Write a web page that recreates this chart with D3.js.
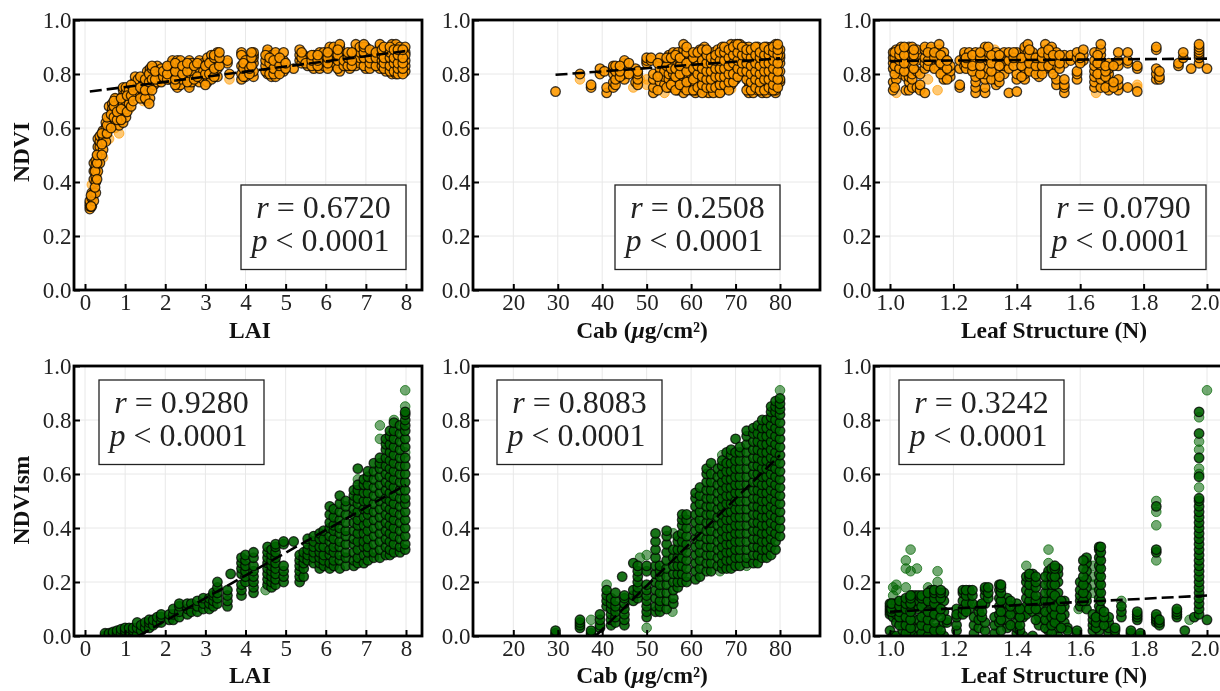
<!DOCTYPE html>
<html lang="en">
<head>
  <meta charset="UTF-8">
  <title>NDVI and NDVIsm against LAI, Cab and N</title>
  <script src="https://d3js.org/d3.v7.min.js"></script>
  <style>
    html, body { margin: 0; padding: 0; background: white; overflow: hidden; }
    svg { display: block; filter: blur(0.5px); font-family: "Liberation Serif", "Times New Roman", serif; }
  </style>
</head>
<body>
  <div id="chart"></div>

  <script>
    // every row is one column of dots: [x, y, y, y, ...]
    // the *Faint rows are the lone pale dots, the others are stacked so they read dark
    const laiTicks = [0, 1, 2, 3, 4, 5, 6, 7, 8];
    const cabTicks = [20, 30, 40, 50, 60, 70, 80];
    const leafTicks = [1.0, 1.2, 1.4, 1.6, 1.8, 2.0];
    const yTicks = [0, 0.2, 0.4, 0.6, 0.8, 1.0];

    const ndviLai = [
      [0.12, .30, .31, .32, .33], [0.17, .31, .34, .36], [0.22, .33, .36, .41, .44, .47], [0.27, .36, .40, .42, .45, .48, .46],
      [0.32, .44, .47, .50, .53, .56], [0.37, .47, .50, .53, .55, .57], [0.45, .52, .55, .57, .59], [0.52, .55, .58, .60, .62],
      [0.6, .60, .64, .68, .61], [0.68, .62, .66, .69, .67], [0.75, .63, .67, .71], [0.85, .61, .65, .68, .70], [0.95, .62, .65, .69, .72, .74, .75],
      [1.02, .64, .67, .70, .73, .75], [1.1, .71, .74, .69], [1.25, .72, .75, .77, .79], [1.32, .73, .76, .78], [1.45, .73, .76, .78, .72],
      [1.55, .70, .73, .76, .79, .81], [1.62, .71, .75, .78, .81, .82], [1.72, .76, .79, .82], [1.8, .77, .80, .83], [1.9, .77, .80, .82],
      [2.1, .78, .81, .83], [2.18, .80, .84, .85], [2.3, .75, .77, .79, .82, .84, .85], [2.38, .76, .78, .81, .83, .85], [2.6, .76, .78, .80, .82, .85, .75],
      [2.66, .77, .79, .81, .84], [2.85, .77, .79, .82, .85], [2.95, .78, .81, .84], [3.05, .77, .79, .82, .84, .86], [3.15, .78, .81, .83, .85, .87],
      [3.3, .79, .82, .85, .87, .88], [3.55, .84, .85], [3.6, .80], [3.9, .78, .80, .83, .88, .87], [4.0, .79, .81, .83, .85], [4.2, .79, .81, .84, .86, .87, .88],
      [4.55, .80, .82, .84, .86, .88, .89], [4.65, .79, .81, .83, .85, .87], [4.75, .79, .81, .84, .87, .88], [4.95, .81, .83, .85, .88], [5.2, .82],
      [5.35, .85, .87, .89], [5.45, .85, .87], [5.55, .83, .85, .86], [5.7, .82, .84, .87], [5.85, .82, .84, .86, .88], [5.95, .83, .85, .87, .88],
      [6.1, .83, .85, .87, .89, .90], [6.2, .84, .86, .88, .90], [6.35, .81, .84, .86, .88, .90, .91], [6.6, .82, .84, .87], [6.75, .83, .85, .87, .89, .91],
      [6.85, .84, .86, .88, .90], [7.0, .82, .85, .87, .89, .90], [7.15, .83, .85, .87, .88], [7.35, .82, .84, .86, .88, .90, .91], [7.5, .81, .83, .85, .87, .89],
      [7.65, .80, .82, .84, .87, .89, .91], [7.75, .80, .83, .85, .88, .90, .91], [7.85, .81, .83, .86, .88, .90], [7.98, .81, .83, .85, .88, .90, .87],
      [0.15, .31, .35], [0.25, .38, .44], [0.3, .41, .47, .50], [0.42, .50, .54, .58], [0.55, .58, .61, .64], [0.65, .60, .65], [0.72, .64, .68, .70], [0.8, .63, .66],
      [0.9, .63, .67, .71], [1.05, .66, .72], [1.15, .68, .72, .76], [1.2, .70, .74], [1.38, .71, .75, .79], [1.5, .71, .74, .78], [1.6, .69, .77, .80], [1.67, .74, .78, .82, .83],
      [1.75, .78, .81], [1.95, .79, .81], [2.05, .78, .80, .83], [2.25, .76, .78, .81, .84], [2.43, .80, .83], [2.55, .77, .81, .84], [2.72, .78, .83], [2.8, .79, .84],
      [3.0, .76, .80, .83], [3.1, .80, .84], [3.22, .79, .82, .86, .87], [3.35, .83, .86, .88], [3.95, .79, .82, .84], [4.1, .80, .82], [4.15, .83, .86, .88],
      [4.5, .81, .83, .85, .87], [4.6, .80, .84, .86], [4.7, .80, .82, .85], [4.85, .80, .83, .86], [5.0, .82, .84], [5.4, .84, .86, .88], [5.5, .84], [5.65, .83, .85, .87],
      [5.8, .83, .85, .87], [6.05, .82, .84, .86, .88], [6.3, .82, .85, .87, .89], [6.45, .83, .85], [6.55, .83, .86, .88], [6.65, .83, .85, .88], [6.95, .83, .86, .88, .90, .91],
      [7.1, .82, .84, .86, .89], [7.25, .83, .86, .88], [7.4, .83, .85, .87, .89], [7.45, .82, .84, .86, .90], [7.6, .81, .83, .86, .88, .90], [7.7, .81, .84, .86, .89],
      [7.8, .80, .82, .84, .87, .89], [7.92, .80, .82, .84, .86, .89]
    ];
    const ndviLaiFaint = [[0.17, .39], [0.3, .43], [0.45, .49], [0.6, .56], [0.75, .60, .71], [0.85, .58], [1.1, .67], [1.45, .70], [3.6, .78]];

    const ndviCab = [
      [29.5, .735], [35, .80], [37.5, .75, .76], [39.5, .80, .82], [41, .73, .75], [40.5, .81], [42.5, .75, .77, .80, .82, .83], [43, .76, .78, .81, .83],
      [45, .78, .80, .82, .84, .85], [47.5, .77, .80, .82], [48, .76, .78, .80, .81], [50, .84, .85, .86], [51.5, .73, .75, .78, .80], [53, .77, .80, .82, .84, .86],
      [54, .76, .79, .81], [55, .75, .78, .80, .83, .85, .87], [56, .75, .77, .80, .83, .85, .87, .88], [57, .74, .78, .81, .84, .86, .88],
      [58.3, .73, .75, .78, .80, .84, .87, .89, .91], [59.5, .76, .79, .82, .85], [60, .75, .77, .80, .83, .85, .74], [61, .73, .76, .79, .82, .85, .87, .74],
      [62, .75, .78, .81, .84, .87, .89], [63, .74, .77, .80, .83, .86, .90, .88], [64, .73, .76, .79, .82, .85, .87], [65, .74, .77, .80, .83, .86, .88, .73],
      [66, .75, .78, .81, .84, .87, .89], [67, .74, .77, .80, .83, .86, .88, .90], [68, .75, .78, .81, .84, .87, .89], [69, .76, .79, .82, .85, .88, .90, .91],
      [70, .78, .80, .83, .86, .89, .91], [71, .80, .82, .85, .87, .90, .91], [72, .82, .84, .86, .88, .90], [73, .73, .75, .77, .79, .82, .85, .88, .90],
      [74, .73, .76, .78, .81, .84, .87, .89], [75, .74, .77, .80, .83, .86, .89, .90], [76, .73, .75, .78, .81, .84, .87, .89], [77, .73, .76, .79, .82, .85, .88, .90],
      [78, .74, .77, .80, .83, .86, .89, .90], [79, .73, .74, .76, .79, .82, .85, .88, .90, .91], [80, .77, .78, .81, .84, .86, .87, .89],
      [44, .79, .81, .83], [46, .80, .84], [51, .85, .86], [52.5, .74, .79, .84], [54.5, .75, .83, .86], [55.5, .76, .82, .86], [56.5, .74, .79, .82, .87], [57.5, .76, .80, .83, .86],
      [59, .74, .77, .81, .84, .88, .90], [60.5, .74, .78, .82, .86, .88], [61.5, .75, .80, .83, .88], [62.5, .73, .76, .79, .82, .85, .89], [63.5, .75, .78, .81, .84, .87, .89],
      [64.5, .75, .78, .81, .84, .86], [65.5, .75, .79, .82, .85, .87], [66.5, .73, .76, .79, .82, .85, .88], [67.5, .76, .79, .82, .85, .88, .90], [68.5, .74, .77, .80, .83, .86, .89],
      [69.5, .77, .80, .84, .87, .90], [70.5, .79, .82, .85, .88, .91], [71.5, .81, .84, .87, .90], [72.5, .74, .78, .81, .84, .87, .89], [73.5, .74, .77, .80, .83, .86, .89],
      [74.5, .75, .78, .81, .84, .87, .90], [75.5, .74, .77, .80, .83, .86, .88], [76.5, .74, .78, .81, .84, .87, .90], [77.5, .75, .78, .81, .84, .87, .89],
      [78.5, .74, .76, .79, .82, .85, .88, .90], [79.5, .75, .78, .81, .84, .87, .89, .91]
    ];
    const ndviCabFaint = [[35, .78], [47, .75], [48.5, .78], [50, .76, .78], [54, .73], [63.5, .73], [66, .73], [69, .745]];

    const ndviLeaf = [
      [1.01, .74, .77, .82, .84, .86, .88], [1.02, .78, .83, .85, .87, .89], [1.035, .80, .84, .86, .88, .90], [1.05, .74, .79, .83, .85, .87, .89],
      [1.06, .74, .77, .79, .81, .84, .87, .90], [1.07, .75, .78, .80, .83, .86, .88, .90], [1.085, .75, .81, .85, .87, .89], [1.095, .74, .76, .80],
      [1.11, .73, .82, .84, .86, .89, .90], [1.13, .83, .85, .87, .89, .90], [1.155, .82, .85, .87, .89, .91], [1.17, .78, .80, .83, .86, .88],
      [1.19, .79, .81, .83], [1.22, .75, .76, .82, .85], [1.235, .83, .85, .87, .88], [1.25, .84, .86, .88], [1.27, .73, .75, .77, .79, .82, .85, .88],
      [1.30, .73, .75, .78, .80, .85, .87, .89, .90], [1.31, .82, .86, .88, .90], [1.335, .76, .78, .80, .85, .88], [1.36, .80, .83, .85, .88],
      [1.375, .73, .82, .85, .88], [1.40, .735, .78, .80, .85, .88], [1.425, .78, .80, .82, .85, .87, .89, .90], [1.435, .83, .86, .88, .91],
      [1.45, .82, .85, .87, .88], [1.47, .79, .81, .84, .86], [1.49, .82, .85, .87, .89, .91], [1.51, .82, .84, .86, .89, .90], [1.525, .76, .78, .83, .86, .88],
      [1.55, .73, .75, .76, .78, .84, .87], [1.57, .85, .87], [1.59, .78, .80, .81, .86, .88], [1.61, .85, .87, .89], [1.645, .75, .77, .79, .81, .83, .85, .88],
      [1.665, .75, .78, .80, .83, .85, .87, .89, .91], [1.69, .74, .76, .78, .80, .82, .84], [1.72, .74, .76, .78, .83, .85, .88], [1.75, .75, .84, .85, .88],
      [1.78, .735, .82, .83], [1.84, .78, .80, .82, .89, .90], [1.85, .78, .79, .81], [1.91, .83, .84], [1.925, .86, .88], [1.95, .82],
      [1.975, .84, .86, .87, .88, .89, .90, .91], [2.0, .82],
      [1.015, .75, .80, .83, .86, .88], [1.03, .82, .85, .87, .89], [1.045, .81, .84, .87, .90], [1.075, .82, .85, .87, .89], [1.12, .83, .85, .88], [1.14, .82, .86, .88],
      [1.16, .80, .84, .87], [1.18, .78, .82, .85], [1.24, .82, .84, .86], [1.26, .81, .83, .87], [1.285, .80, .83, .86, .88], [1.32, .78, .81, .84, .87], [1.345, .77, .79, .83, .87],
      [1.39, .83, .86, .88], [1.415, .79, .83, .86], [1.44, .81, .84, .87, .89], [1.46, .80, .83, .86], [1.48, .80, .83, .86, .88], [1.50, .83, .87, .89], [1.515, .80, .85, .87],
      [1.535, .82, .84, .87], [1.60, .84, .86], [1.655, .80, .84, .87], [1.68, .75, .79, .81, .83], [1.705, .75, .77, .83]
    ];
    const ndviLeafFaint = [[1.02, .73], [1.12, .78], [1.15, .74], [1.33, .89], [1.65, .73], [1.78, .75, .76]];

    const smLai = [
      [0.5, 0, .01], [0.6, .005, .01], [0.7, .01, .015], [0.8, .01, .02], [0.9, .01, .025], [1.0, .01, .02, .03], [1.1, .01, .03], [1.2, 0, .02, .03],
      [1.3, .005, .03, .05], [1.4, .02, .04], [1.5, .03, .05], [1.6, .03, .05, .06], [1.7, .04, .06], [1.8, .05, .07], [1.9, .05, .07, .08],
      [2.1, .06, .08], [2.2, .06, .08, .10], [2.35, .07, .09, .11, .12], [2.55, .08, .10, .12], [2.65, .09, .12], [2.8, .09, .11, .13], [2.95, .10, .12, .14],
      [3.1, .10, .12, .14], [3.2, .11, .13, .15, .16], [3.3, .12, .14, .16, .18, .20], [3.55, .11, .13, .15, .17], [3.63, .23], [3.9, .15, .17, .19, .23, .25, .27, .29],
      [4.0, .20, .22, .24, .26, .28, .30], [4.2, .16, .18, .20, .22, .24, .26, .29, .31], [4.55, .19, .21, .23, .25, .27, .29, .31, .33], [4.65, .18, .20, .22, .24, .26, .28, .30, .32],
      [4.75, .19, .21, .23, .25, .27, .29, .31, .33, .34], [4.95, .20, .22, .24, .26, .34, .35], [5.2, .35], [5.35, .20, .22, .24, .26, .28, .30], [5.45, .22, .25, .27, .29, .31],
      [5.55, .28, .30, .32, .34, .36], [5.7, .27, .29, .31, .33, .35, .37], [5.85, .25, .27, .29, .31, .33, .36, .38], [5.95, .26, .28, .30, .33, .36, .39],
      [6.1, .25, .27, .30, .32, .35, .37, .40, .42, .45, .48], [6.2, .26, .28, .31, .33, .36, .39, .41, .44, .47], [6.35, .25, .28, .30, .33, .35, .38, .40, .43, .46, .49, .52],
      [6.5, .26, .29, .31, .34, .37, .39, .42, .45, .48, .50], [6.7, .26, .28, .31, .34, .36, .39, .42, .45, .47, .50, .52, .54],
      [6.8, .27, .29, .32, .35, .38, .41, .43, .46, .49, .51, .54, .56, .62], [6.95, .27, .30, .33, .35, .38, .41, .44, .47, .50, .53, .56, .58],
      [7.05, .28, .31, .33, .36, .39, .42, .45, .47, .50, .53, .56, .59, .61], [7.2, .29, .31, .34, .37, .40, .43, .46, .49, .52, .55, .58, .61, .64],
      [7.35, .29, .32, .35, .38, .41, .44, .47, .50, .53, .56, .59, .62, .64, .66], [7.5, .30, .33, .36, .39, .42, .45, .48, .51, .54, .57, .60, .63, .66, .69, .71, .73],
      [7.6, .30, .32, .35, .38, .41, .44, .47, .50, .53, .56, .59, .62, .65, .68, .71, .74, .76], [7.7, .31, .34, .37, .40, .43, .46, .49, .52, .55, .58, .61, .64, .67, .70, .73, .76, .79],
      [7.85, .31, .33, .36, .39, .42, .45, .48, .51, .54, .57, .60, .63, .66, .69, .72, .75, .78], [7.98, .32, .34, .37, .40, .43, .46, .49, .51, .54, .57, .60, .63, .66, .70, .73, .76, .78, .80, .82, .83]
    ];
    const smLaiFaint = [[4.5, .17], [6.8, .58], [7.35, .73, .78], [7.7, .80], [7.98, .68, .85, .91]];

    const smCab = [
      [29.5, 0, .01, .02], [35, .03, .04, .05, .06], [37.5, 0, .01, .02], [39.5, .03, .04, .06, .08], [41, .11, .13, .15, .17], [42, .04, .06, .08, .10, .12, .14],
      [43, .05, .07, .09, .11, .13, .16], [44.5, .22], [45, .04, .06, .08, .10, .12, .14, .15], [47, .13, .15, .17, .27], [48, .14, .16, .18, .20, .22, .24, .26],
      [50, .07, .09, .11, .13, .15, .17, .19, .24, .26], [52, .09, .11, .14, .17, .20, .23, .26, .29, .32, .35, .38], [53, .09, .11, .13, .16, .19, .22, .24, .26],
      [54.5, .10, .13, .16, .19, .22, .25, .28, .31, .34, .37, .39], [56, .12, .14, .17, .20, .23, .26, .29, .32], [57, .18, .20, .23, .26, .29, .32, .35, .37],
      [58, .20, .23, .26, .29, .32, .35, .38, .41, .43, .45], [59, .20, .22, .25, .28, .31, .34, .37, .40, .43, .45], [61, .21, .24, .27, .30, .33, .36, .39, .42, .45, .48, .51, .53],
      [62, .22, .25, .28, .31, .34, .37, .40, .43, .46, .49, .52, .55], [63.5, .24, .27, .30, .33, .36, .39, .42, .45, .48, .51, .54, .57, .60, .62], [64.5, .24, .27, .30, .33, .36, .39, .42, .45, .48, .51, .54, .57, .60, .64],
      [66, .26, .29, .32, .35, .38, .41, .44, .47, .50, .53, .56, .59, .62], [67, .25, .27, .30, .33, .36, .39, .42, .45, .48, .51, .54, .57, .60, .63, .65], [68, .25, .28, .31, .34, .37, .40, .43, .46, .49, .52, .55, .58, .61, .64, .68],
      [69, .25, .28, .31, .34, .37, .40, .43, .46, .49, .52, .55, .58, .61, .64, .67, .69], [70, .26, .29, .32, .35, .38, .41, .44, .47, .50, .53, .56, .59, .62, .65, .68, .73], [71, .26, .29, .32, .35, .38, .41, .44, .47, .50, .53, .56, .59, .62, .65, .68, .70],
      [72.5, .27, .29, .32, .35, .38, .41, .44, .47, .50, .53, .56, .59, .62, .65, .68, .71, .74, .76], [74, .27, .30, .33, .36, .39, .42, .45, .48, .51, .54, .57, .60, .63, .66, .69, .72, .75, .77], [75, .27, .30, .33, .36, .39, .42, .45, .48, .51, .54, .57, .60, .63, .66, .69, .72, .75, .78],
      [76, .29, .32, .35, .38, .41, .44, .47, .50, .53, .56, .59, .62, .65, .68, .71, .74, .77, .80], [77, .29, .32, .35, .38, .41, .44, .47, .50, .53, .56, .59, .62, .65, .68, .71, .74, .77, .80], [78, .30, .33, .36, .39, .42, .45, .48, .51, .54, .57, .60, .63, .66, .69, .72, .75, .78, .81, .83, .85],
      [79, .32, .35, .38, .41, .44, .47, .50, .53, .56, .59, .62, .65, .68, .71, .74, .77, .80, .83, .85, .87], [80, .37, .40, .43, .46, .49, .52, .55, .58, .61, .64, .67, .70, .73, .76, .79, .82, .84, .86, .88]
    ];
    const smCabFaint = [[37.5, .06], [41, .19], [48.5, .29], [50, .03, .30], [55.8, .09], [56, .38], [66.5, .24], [67, .67], [72.5, .26], [80, .91]];

    const smLeaf = [
      [1.0, .02, .08, .09, .10, .11, .12], [1.01, 0, .07, .09, .11, .12], [1.02, 0, .05, .08, .10, .12], [1.04, .02, .05, .08, .10, .12, .13], [1.06, 0, .02, .05, .08, .10, .13, .14],
      [1.07, .01, .04, .07, .10, .13, .15], [1.08, .14, .15], [1.09, 0, .03, .06, .10, .13, .15], [1.11, .02, .05, .08, .12, .15], [1.13, 0, .03, .07, .11, .15, .17],
      [1.15, 0, .03, .09, .12, .15, .16], [1.17, 0, .05, .09, .13, .16], [1.18, .05, .06], [1.21, .02, .04, .07, .10, .08], [1.23, .08, .10, .13, .16, .17], [1.25, .10, .13, .16, .17],
      [1.265, .01, .04, .07], [1.28, .03, .06, .09, .11], [1.30, .02, .05, .12, .15, .17, .18], [1.33, .01, .04, .07], [1.345, .05, .08, .11, .14, .17, .19], [1.37, .03, .06, .09, .12, .14],
      [1.40, .01, .03, .05, .08, .10, .12], [1.42, 0, .07, .10], [1.43, .08, .11, .14, .17, .20, .22], [1.45, 0, .09, .12, .15, .18, .21, .23], [1.47, .04, .07, .10, .13],
      [1.5, .02, .05, .08, .11, .14, .17, .20, .23, .24], [1.53, 0, .03, .06, .09, .12, .16, .20, .23, .25], [1.55, .05, .08, .11, .13], [1.56, .03, .02], [1.59, .01, .02],
      [1.60, .11, .13, .15, .17, .20], [1.62, .10, .13, .15, .18, .21, .24, .27, .29], [1.64, .02, .04, .06, .08], [1.66, .02, .05, .08, .11, .14, .17, .20, .23, .26, .29, .32, .33],
      [1.69, .01, .03, .05, .07], [1.71, 0, .02, .03], [1.73, .07, .09, .11], [1.76, .01, .02], [1.78, .06, .07, .08, .09], [1.79, 0, .01],
      [1.84, .05, .06, .07, .08, .31, .32, .48], [1.85, .04, .05, .06], [1.905, .07, .08, .09, .10], [1.93, .02], [1.96, .07],
      [1.975, .08, .10, .12, .14, .16, .18, .20, .22, .24, .26, .28, .30, .32, .34, .36, .38, .40, .42, .44, .46, .48, .50, .51, .59, .66, .75, .83], [2.0, .06],
      [1.005, .09, .10, .12], [1.03, .04, .07, .09, .11, .13], [1.05, .01, .04, .07, .10, .12, .14], [1.065, .03, .06, .09, .12, .14, .15], [1.10, .01, .04, .07, .11, .14, .15],
      [1.12, 0, .03, .06, .09, .13, .16], [1.14, .02, .05, .08, .12, .14, .16, .17], [1.16, .02, .07, .10, .14, .16, .17], [1.24, .09, .12, .15, .17], [1.26, .12, .15, .17],
      [1.29, .07, .09, .12], [1.31, .14, .16, .18], [1.35, .02, .06, .09, .13, .16, .18, .19], [1.38, .04, .08, .11, .13], [1.41, .02, .04, .07, .10], [1.44, .10, .13, .16, .19, .22, .23],
      [1.46, .06, .10, .13, .15, .18, .20, .22], [1.49, .03, .06, .09, .13, .16, .19, .22], [1.51, .01, .04, .07, .10, .13, .16, .19, .22, .25], [1.52, .05, .08, .11, .15, .19, .22, .25, .26],
      [1.54, .03, .07, .10, .13], [1.61, .13, .16, .19, .22, .25, .28], [1.65, .03, .05, .07], [1.665, .10, .13, .16, .19, .22, .25, .28, .31, .33], [1.675, .04, .07, .09]
    ];
    const smLeafFaint = [
      [1.01, .15, .18], [1.02, .17, .19], [1.05, .18, .25, .28], [1.065, .24, .32], [1.085, .25], [1.12, .18], [1.15, .20, .24], [1.43, .26], [1.5, .27, .32],
      [1.595, .10], [1.64, .16, .19, .22, .26], [1.73, .13], [1.84, .28, .41, .46, .50], [1.945, .06], [1.975, .55, .60, .62, .69, .72, .81], [2.0, .91]
    ];

    // trend lines, [x, y] at both ends
    const trendNdviLai = [[0.12, .735], [8, .885]];
    const trendNdviCab = [[29.5, .797], [80, .858]];
    const trendNdviLeaf = [[1.0, .848], [2.0, .857]];
    const trendSmLai = [[1.33, 0], [8, .56]];
    const trendSmCab = [[38.5, 0], [80, .67]];
    const trendSmLeaf = [[1.0, .09], [2.0, .15]];

    const rValues = ["0.6720", "0.2508", "0.0790", "0.9280", "0.8083", "0.3242"];

    const ORANGE = "#ff9a00";
    const GREEN = "#006400";

    const panels = [
      { data: ndviLai, faint: ndviLaiFaint, trend: trendNdviLai, r: rValues[0], color: ORANGE, ticks: laiTicks, fmt: d3.format("d"), domain: [0, 8], xr: [85, 406], frame: [74, 422], top: 20, box: [241, 185], labelX: 250, label: "LAI" },
      { data: ndviCab, faint: ndviCabFaint, trend: trendNdviCab, r: rValues[1], color: ORANGE, ticks: cabTicks, fmt: d3.format("d"), domain: [20, 80], xr: [513.3, 780], frame: [473, 820], top: 20, box: [615, 185], labelX: 642, label: "Cab" },
      { data: ndviLeaf, faint: ndviLeafFaint, trend: trendNdviLeaf, r: rValues[2], color: ORANGE, ticks: leafTicks, fmt: d3.format(".1f"), domain: [1, 2], xr: [890, 1207], frame: [874, 1225], top: 20, box: [1041, 185], labelX: 1054, label: "Leaf Structure (N)" },
      { data: smLai, faint: smLaiFaint, trend: trendSmLai, r: rValues[3], color: GREEN, ticks: laiTicks, fmt: d3.format("d"), domain: [0, 8], xr: [85, 406], frame: [74, 422], top: 366, box: [99, 380], labelX: 250, label: "LAI" },
      { data: smCab, faint: smCabFaint, trend: trendSmCab, r: rValues[4], color: GREEN, ticks: cabTicks, fmt: d3.format("d"), domain: [20, 80], xr: [513.3, 780], frame: [473, 820], top: 366, box: [497, 380], labelX: 642, label: "Cab" },
      { data: smLeaf, faint: smLeafFaint, trend: trendSmLeaf, r: rValues[5], color: GREEN, ticks: leafTicks, fmt: d3.format(".1f"), domain: [1, 2], xr: [890, 1207], frame: [874, 1225], top: 366, box: [899, 380], labelX: 1054, label: "Leaf Structure (N)" }
    ];

    const plotH = 270;
    const svg = d3.select("#chart").append("svg").attr("width", 1220).attr("height", 691);

    const toPoints = rows => rows.flatMap(col => col.slice(1).map(v => [col[0], v]));

    panels.forEach((p, i) => {
      const x = d3.scaleLinear().domain(p.domain).range(p.xr);
      const y = d3.scaleLinear().domain([0, 1]).range([p.top + plotH, p.top]);
      const g = svg.append("g");
      const [fl, fr] = p.frame;

      // grid
      g.selectAll(".gx").data(p.ticks).enter().append("line")
        .attr("x1", d => x(d)).attr("x2", d => x(d))
        .attr("y1", p.top).attr("y2", p.top + plotH)
        .attr("stroke", "#e8e8e8").attr("stroke-width", 1);
      g.selectAll(".gy").data(yTicks).enter().append("line")
        .attr("x1", fl).attr("x2", fr)
        .attr("y1", d => y(d)).attr("y2", d => y(d))
        .attr("stroke", "#e8e8e8").attr("stroke-width", 1);

      svg.append("clipPath").attr("id", "clip" + i).append("rect")
        .attr("x", fl).attr("y", p.top).attr("width", fr - fl).attr("height", plotH);

      // dots, pale ones first
      const dots = g.append("g").attr("clip-path", `url(#clip${i})`);
      dots.selectAll(".faint").data(toPoints(p.faint)).enter().append("circle")
        .attr("class", "faint")
        .attr("cx", d => x(d[0])).attr("cy", d => y(d[1]))
        .attr("r", 4.8)
        .attr("fill", p.color).attr("fill-opacity", 0.55)
        .attr("stroke", p.color).attr("stroke-opacity", 0.7).attr("stroke-width", 1);
      dots.selectAll(".main").data(toPoints(p.data)).enter().append("circle")
        .attr("class", "main")
        .attr("cx", d => x(d[0])).attr("cy", d => y(d[1]))
        .attr("r", 4.8)
        .attr("fill", p.color).attr("fill-opacity", 0.9)
        .attr("stroke", "#000").attr("stroke-opacity", 0.75).attr("stroke-width", 1.3);

      // trend
      g.append("path").datum(p.trend)
        .attr("d", d3.line().x(d => x(d[0])).y(d => y(d[1])))
        .attr("fill", "none").attr("stroke", "#000")
        .attr("stroke-width", 2.6).attr("stroke-dasharray", "12,5");

      // frame
      g.append("rect").attr("x", fl).attr("y", p.top).attr("width", fr - fl).attr("height", plotH)
        .attr("fill", "none").attr("stroke", "#000").attr("stroke-width", 2.8);

      // axes, ticks point inwards
      const xAxis = d3.axisBottom(x).tickValues(p.ticks).tickFormat(p.fmt).tickSizeOuter(0).tickSizeInner(-6).tickPadding(4);
      const gx = g.append("g").attr("transform", `translate(0,${p.top + plotH})`).call(xAxis);
      const yAxis = d3.axisLeft(y).tickValues(yTicks).tickFormat(d3.format(".1f")).tickSizeOuter(0).tickSizeInner(-6).tickPadding(2.5);
      const gy = g.append("g").attr("transform", `translate(${fl},0)`).call(yAxis);
      [gx, gy].forEach(a => {
        a.select(".domain").remove();
        a.selectAll("line").attr("stroke", "#000").attr("stroke-width", 2);
        a.selectAll("text").attr("fill", "#222").attr("font-size", 23).attr("font-family", "Liberation Serif");
      });
      // the 2.0 label of the leaf panels sits right against the page edge
      if (p.ticks === leafTicks) gx.selectAll("text").filter(d => d === 2).attr("dx", -2.5);

      // x label
      const xl = g.append("text")
        .attr("x", p.labelX).attr("y", p.top + (p.top === 20 ? 318 : 317))
        .attr("text-anchor", "middle").attr("font-size", 23.5).attr("font-weight", "bold").attr("fill", "#111");
      xl.append("tspan").text(p.label);
      if (p.label === "Cab") {
        xl.append("tspan").text(" (");
        xl.append("tspan").attr("font-style", "italic").text("μ");
        xl.append("tspan").text("g/cm²)");
      }

      // stats box
      const [bx, by] = p.box;
      g.append("rect").attr("x", bx).attr("y", by).attr("width", 165).attr("height", 84.5)
        .attr("fill", "white").attr("stroke", "#222").attr("stroke-width", 1.3);
      const line1 = g.append("text").attr("x", bx + 82.5).attr("y", by + 33).attr("text-anchor", "middle").attr("font-size", 32).attr("fill", "#222");
      line1.append("tspan").attr("font-style", "italic").text("r");
      line1.append("tspan").text(" = " + p.r);
      const line2 = g.append("text").attr("x", bx + 79.5).attr("y", by + 66).attr("text-anchor", "middle").attr("font-size", 32).attr("fill", "#222");
      line2.append("tspan").attr("font-style", "italic").text("p");
      line2.append("tspan").text(" < 0.0001");
    });

    // y labels
    const yLabels = [["NDVI", 29, 152], ["NDVIsm", 29, 500]];
    svg.selectAll(".ylab").data(yLabels).enter().append("text")
      .attr("transform", d => `translate(${d[1]},${d[2]}) rotate(-90)`)
      .attr("text-anchor", "middle").attr("font-size", 23.5).attr("font-weight", "bold").attr("fill", "#111")
      .text(d => d[0]);
  </script>
</body>
</html>
